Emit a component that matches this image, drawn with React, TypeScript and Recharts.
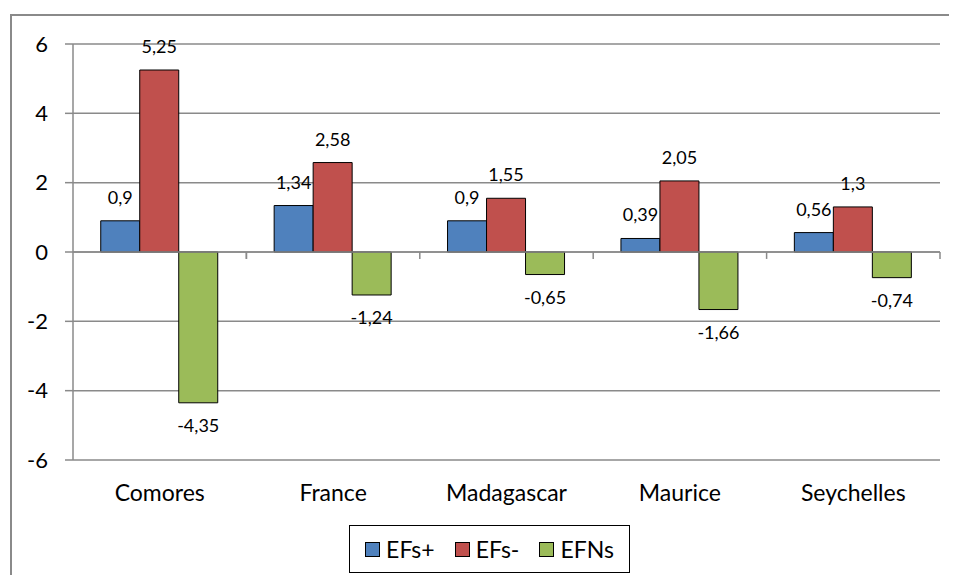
import React from 'react';
import { BarChart, Bar, XAxis, YAxis, CartesianGrid, LabelList, Legend, ReferenceLine } from 'recharts';

const countries = ['Comores', 'France', 'Madagascar', 'Maurice', 'Seychelles'];
const efsPlus = [0.9, 1.34, 0.9, 0.39, 0.56];
const efsMinus = [5.25, 2.58, 1.55, 2.05, 1.3];
const efns = [-4.35, -1.24, -0.65, -1.66, -0.74];
const yTicks = [-6, -4, -2, 0, 2, 4, 6];

const series = [
  { key: 'efsPlus', name: 'EFs+', color: '#4F81BD' },
  { key: 'efsMinus', name: 'EFs-', color: '#C0504D' },
  { key: 'efns', name: 'EFNs', color: '#9BBB59' },
];

const data = countries.map((c, i) => ({
  name: c,
  efsPlus: efsPlus[i],
  efsMinus: efsMinus[i],
  efns: efns[i],
}));

const FONT = 'Lato, "Open Sans", sans-serif';
const GRID = '#8a8a8a';

const fmt = (v: any) => String(v).replace('.', ',');

// outside-end label: above positive bars, below negative ones
const ValueLabel = (props: any) => {
  const { x, y, width, height, value } = props;
  const top = Math.min(y, y + height);
  const bottom = Math.max(y, y + height);
  const neg = value < 0;
  return (
    <text
      x={x + width / 2}
      y={neg ? bottom + 29 : top - 17}
      textAnchor="middle"
      fill="#000"
      fontSize={18}
      fontFamily={FONT}
    >
      {fmt(value)}
    </text>
  );
};

const LegendBox = () => (
  <div
    style={{
      border: '1px solid #000',
      width: 279,
      height: 46,
      display: 'flex',
      alignItems: 'center',
      justifyContent: 'center',
      gap: 20,
      fontFamily: FONT,
      fontSize: 23,
      color: '#000',
      background: '#fff',
    }}
  >
    {series.map(s => (
      <div key={s.key} style={{ display: 'flex', alignItems: 'center', gap: 6 }}>
        <span style={{ width: 13, height: 13, background: s.color, border: '1px solid #000', display: 'inline-block' }} />
        <span>{s.name}</span>
      </div>
    ))}
  </div>
);

export default function App() {
  return (
    <div style={{ position: 'relative', width: 957, height: 583, margin: -8, overflow: 'hidden', background: '#fff' }}>
      <div
        style={{
          position: 'absolute',
          left: 10,
          top: 14,
          width: 960,
          height: 620,
          border: '2px solid #8a8a8a',
          boxSizing: 'border-box',
        }}
      />
      <div style={{ position: 'absolute', left: 0, top: 0 }}>
        <BarChart
          width={957}
          height={583}
          data={data}
          margin={{ top: 44, right: 17, bottom: 0, left: 0 }}
          barCategoryGap="16%"
          barGap={0}
        >
          <CartesianGrid vertical={false} stroke={GRID} strokeWidth={1.5} />
          <XAxis
            dataKey="name"
            height={123}
            axisLine={false}
            tickLine={false}
            tickSize={0}
            tickMargin={25}
            interval={0}
            tick={{ fill: '#000', fontSize: 23, fontFamily: FONT }}
          />
          <YAxis
            width={73}
            domain={[-6, 6]}
            ticks={yTicks}
            interval={0}
            axisLine={{ stroke: GRID, strokeWidth: 1.5 }}
            tickLine={{ stroke: GRID, strokeWidth: 1.5 }}
            tickSize={8}
            tickMargin={17}
            tick={{ fill: '#000', fontSize: 22, fontFamily: FONT }}
          />
          <ReferenceLine y={0} stroke={GRID} strokeWidth={1.5} />
          {countries.map((c, i) => (
            <ReferenceLine
              key={c}
              segment={[{ x: c, y: 0 }, { x: c, y: -0.2 }]}
              position={i === 0 ? 'end' : 'start'}
              stroke={GRID}
              strokeWidth={1.5}
            />
          ))}
          <ReferenceLine
            segment={[{ x: countries[countries.length - 1], y: 0 }, { x: countries[countries.length - 1], y: -0.2 }]}
            position="end"
            stroke={GRID}
            strokeWidth={1.5}
          />
          {series.map(s => (
            <Bar key={s.key} dataKey={s.key} name={s.name} fill={s.color} stroke="#000" strokeWidth={1} isAnimationActive={false}>
              <LabelList dataKey={s.key} content={<ValueLabel />} />
            </Bar>
          ))}
          <Legend
            verticalAlign="middle"
            align="center"
            content={() => <LegendBox />}
            wrapperStyle={{ left: 349, top: 525, width: 281, height: 48 }}
          />
        </BarChart>
      </div>
    </div>
  );
}
